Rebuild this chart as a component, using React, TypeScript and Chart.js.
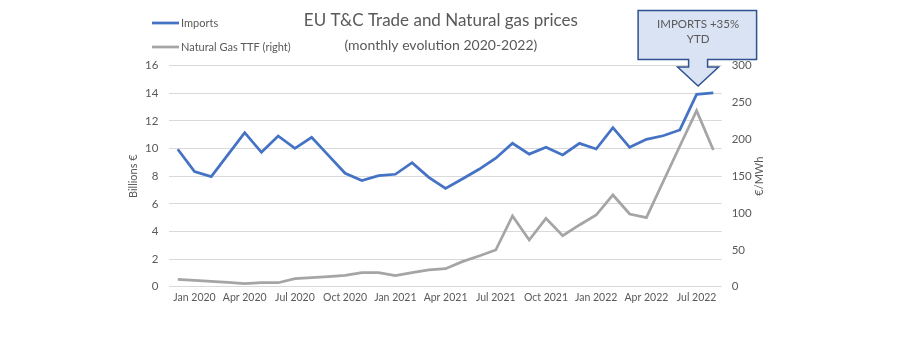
import React, { useEffect, useRef } from "react";
import { Chart, registerables } from "chart.js";

Chart.register(...registerables);

const months = [
  "Dec 2019",
  "Jan 2020", "Feb 2020", "Mar 2020", "Apr 2020", "May 2020", "Jun 2020",
  "Jul 2020", "Aug 2020", "Sep 2020", "Oct 2020", "Nov 2020", "Dec 2020",
  "Jan 2021", "Feb 2021", "Mar 2021", "Apr 2021", "May 2021", "Jun 2021",
  "Jul 2021", "Aug 2021", "Sep 2021", "Oct 2021", "Nov 2021", "Dec 2021",
  "Jan 2022", "Feb 2022", "Mar 2022", "Apr 2022", "May 2022", "Jun 2022",
  "Jul 2022", "Aug 2022",
];
const tickMonths = ["Jan", "Apr", "Jul", "Oct"];

const imports = [
  9.95, 8.33, 7.97, 9.56, 11.15, 9.73, 10.91, 10.02, 10.82, 9.51, 8.21, 7.68,
  8.04, 8.14, 8.98, 7.92, 7.12, 7.8, 8.5, 9.3, 10.38, 9.6, 10.09, 9.54, 10.38,
  9.97, 11.51, 10.09, 10.67, 10.93, 11.35, 13.93, 14.03,
];
const ttf = [
  10.0, 8.7, 7.3, 6.0, 4.1, 5.4, 5.4, 10.9, 12.2, 13.6, 15.5, 19, 19, 14.9, 19,
  22.7, 24.4, 34, 41.7, 49.8, 96, 63.4, 92.8, 69.2, 83.8, 97.3, 124.5, 98.7,
  93.7, 142.5, 191, 239, 185.6,
];

const leftTicks = { min: 0, max: 16, step: 2 };
const rightTicks = { min: 0, max: 300, step: 50 };

const seriesNames = ["Imports", "Natural Gas TTF (right)"];
const titleText = "EU T&C Trade and Natural gas prices";
const subtitleText = "(monthly evolution 2020-2022)";
const calloutLines = ["IMPORTS +35%", "YTD"];
const calloutIndex = 31;

const FONT = "Lato, 'Open Sans', sans-serif";
const TEXT = "#595959";
const BLUE = "#4472c4";
const GREY = "#a5a5a5";

const overlayPlugin = {
  id: "overlay",
  afterDraw(chart: any) {
    const ctx = chart.ctx;
    ctx.save();
    // legend
    const legend = [
      { y: 23, color: BLUE, text: seriesNames[0] },
      { y: 47, color: GREY, text: seriesNames[1] },
    ];
    ctx.font = `11px ${FONT}`;
    ctx.textBaseline = "middle";
    ctx.textAlign = "left";
    legend.forEach((l) => {
      ctx.strokeStyle = l.color;
      ctx.lineWidth = 2.75;
      ctx.beginPath();
      ctx.moveTo(152, l.y);
      ctx.lineTo(179, l.y);
      ctx.stroke();
      ctx.fillStyle = TEXT;
      ctx.fillText(l.text, 181, l.y);
    });

    // right axis title
    const area = chart.chartArea;
    ctx.save();
    ctx.translate(759, (area.top + area.bottom) / 2);
    ctx.rotate(-Math.PI / 2);
    ctx.textAlign = "center";
    ctx.fillStyle = TEXT;
    ctx.font = `11px ${FONT}`;
    ctx.fillText("€/MWh", 0, 0);
    ctx.restore();

    // callout
    const tx = chart.scales.x.getPixelForValue(calloutIndex) + 1.5;
    const L = tx - 60, R = tx + 58.5, T = 10.5, B = 59.5, NB = 67, TIP = 86;
    ctx.beginPath();
    ctx.moveTo(L, T);
    ctx.lineTo(R, T);
    ctx.lineTo(R, B);
    ctx.lineTo(tx + 9.5, B);
    ctx.lineTo(tx + 9.5, NB);
    ctx.lineTo(tx + 20.5, NB);
    ctx.lineTo(tx, TIP);
    ctx.lineTo(tx - 20.5, NB);
    ctx.lineTo(tx - 9.5, NB);
    ctx.lineTo(tx - 9.5, B);
    ctx.lineTo(L, B);
    ctx.closePath();
    ctx.fillStyle = "#dae3f3";
    ctx.fill();
    ctx.strokeStyle = "#2f528f";
    ctx.lineWidth = 1.5;
    ctx.stroke();
    ctx.fillStyle = TEXT;
    ctx.font = `11.5px ${FONT}`;
    ctx.textAlign = "center";
    ctx.fillText(calloutLines[0], tx, 24);
    ctx.fillText(calloutLines[1], tx, 39.5);
    ctx.restore();
  },
};

export default function App() {
  const ref = useRef<HTMLCanvasElement | null>(null);

  useEffect(() => {
    const canvas = ref.current;
    if (!canvas) return;
    const chart = new Chart(canvas, {
      type: "line",
      data: {
        labels: months,
        datasets: [
          {
            label: seriesNames[0],
            data: imports,
            borderColor: BLUE,
            backgroundColor: BLUE,
            borderWidth: 2.75,
            pointRadius: 0,
            tension: 0,
            yAxisID: "y",
          },
          {
            label: seriesNames[1],
            data: ttf,
            borderColor: GREY,
            backgroundColor: GREY,
            borderWidth: 2.75,
            pointRadius: 0,
            tension: 0,
            yAxisID: "y1",
          },
        ],
      },
      options: {
        responsive: false,
        animation: false,
        devicePixelRatio: 1,
        layout: { padding: { left: 120, right: 137.3, top: 0.5, bottom: 40.3 } },
        plugins: {
          legend: { display: false },
          tooltip: { enabled: false },
          title: {
            display: true,
            text: titleText,
            color: TEXT,
            font: { family: FONT, size: 17, weight: "normal" },
            padding: { top: 10, bottom: 4 },
          },
          subtitle: {
            display: true,
            text: subtitleText,
            color: TEXT,
            font: { family: FONT, size: 14, weight: "normal" },
            padding: { top: 2, bottom: 12 },
          },
        },
        scales: {
          x: {
            type: "category",
            offset: true,
            grid: { display: false, drawTicks: false },
            border: { display: false },
            ticks: {
              autoSkip: false,
              maxRotation: 0,
              minRotation: 0,
              padding: 5,
              color: TEXT,
              font: { family: FONT, size: 10.5 },
              callback: (_v: any, i: number) =>
                tickMonths.includes(months[i].slice(0, 3)) ? months[i] : "",
            },
            afterFit: (s: any) => {
              s.height = 20;
            },
          },
          y: {
            position: "left",
            min: leftTicks.min,
            max: leftTicks.max,
            grid: { color: "#d9d9d9", drawTicks: false, lineWidth: 1 },
            border: { display: false },
            ticks: {
              stepSize: leftTicks.step,
              padding: 11,
              color: TEXT,
              font: { family: FONT, size: 11.5 },
            },
            title: {
              display: true,
              text: "Billions €",
              color: TEXT,
              font: { family: FONT, size: 11 },
              padding: { top: 6.7, bottom: 0 },
            },
            afterFit: (s: any) => {
              s.width = 49.4;
            },
          },
          y1: {
            position: "right",
            min: rightTicks.min,
            max: rightTicks.max,
            grid: { display: false, drawTicks: false },
            border: { display: false },
            ticks: {
              stepSize: rightTicks.step,
              padding: 10,
              color: TEXT,
              font: { family: FONT, size: 11.5 },
            },
            afterFit: (s: any) => {
              s.width = 40;
            },
          },
        },
      },
      plugins: [overlayPlugin],
    } as any);
    return () => chart.destroy();
  }, []);

  return (
    <div
      style={{
        position: "absolute",
        left: 0,
        top: 0,
        width: 899,
        height: 347,
        background: "#ffffff",
      }}
    >
      <canvas ref={ref} width={899} height={347} style={{ display: "block" }} />
    </div>
  );
}
